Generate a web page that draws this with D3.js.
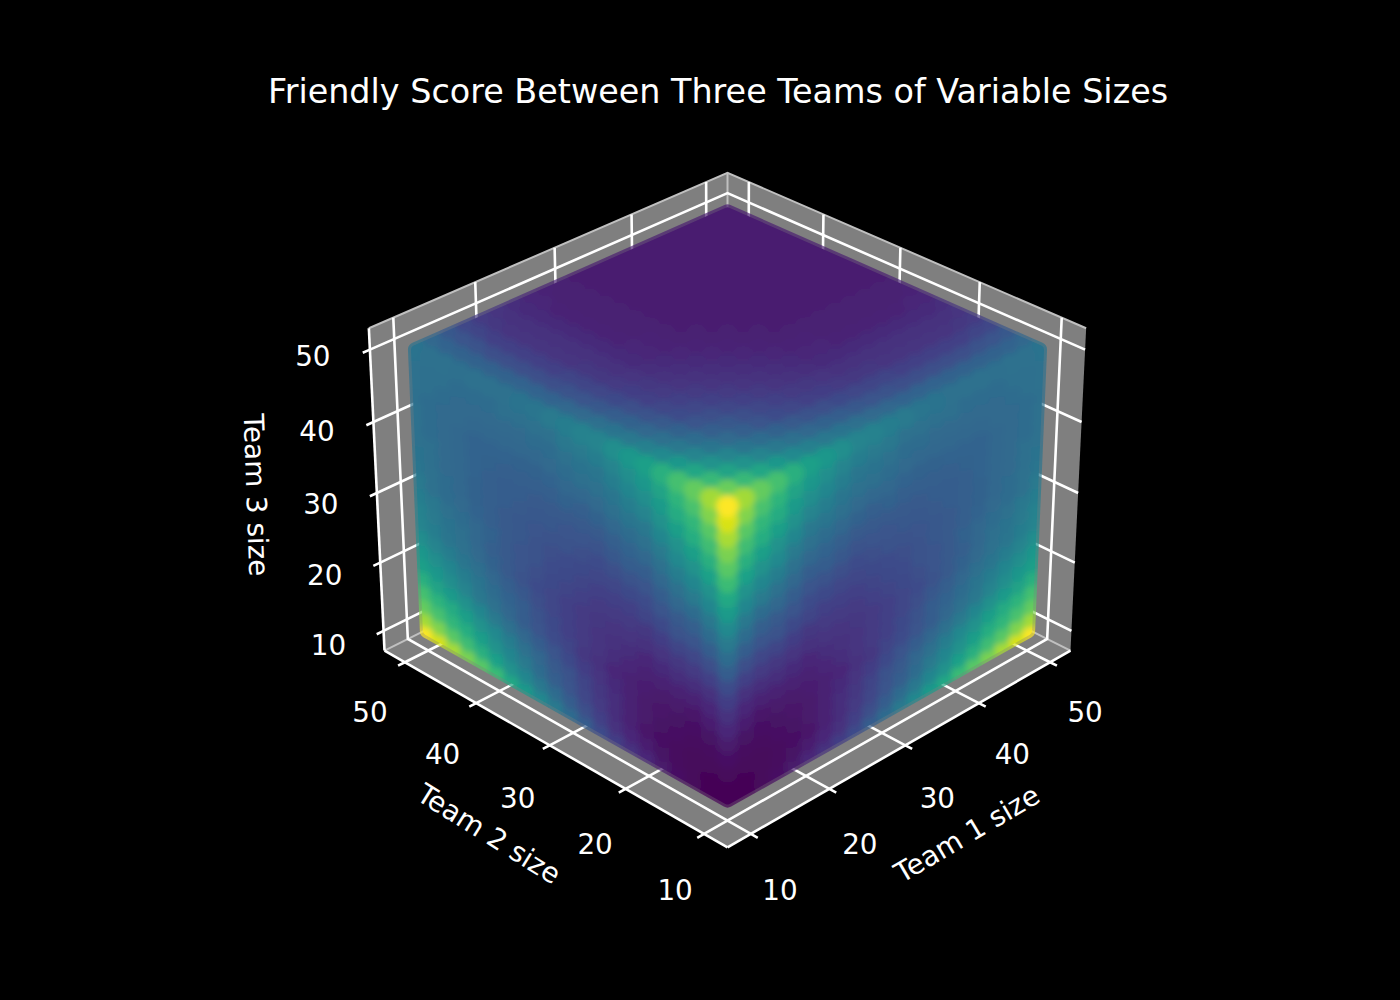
<!DOCTYPE html>
<html>
<head>
<meta charset="utf-8">
<script src="https://cdn.jsdelivr.net/npm/d3@7"></script>
<style>
  html, body { margin: 0; background: #000; }
  text { font-family: "DejaVu Sans", sans-serif; fill: #fff; }
</style>
</head>
<body>
<svg id="chart" width="1400" height="1000"></svg>
<script>
const chartTitle = "Friendly Score Between Three Teams of Variable Sizes";
const axisNames = ["Team 1 size", "Team 2 size", "Team 3 size"];
const tickValues = [10, 20, 30, 40, 50];
const teamSizes = [10, 12, 14, 16, 18, 20, 22, 24, 26, 28, 30, 32, 34, 36, 38, 40, 42, 44, 46, 48, 50];

const sideScores = [
  [1,1,2,4,7,11,14,18,23,29,35,41,47,54,60,68,74,80,87,94,100],
  [1,1,2,3,5,8,11,14,19,24,29,35,40,46,51,57,63,69,74,81,86],
  [2,2,2,3,4,6,9,13,17,21,26,30,35,41,46,51,56,62,66,71,76],
  [4,3,3,4,5,7,9,13,16,20,25,28,33,37,42,47,51,56,61,65,70],
  [7,5,4,5,6,7,9,12,15,18,22,26,29,33,37,41,46,50,54,58,63],
  [11,8,6,7,7,8,9,11,14,16,20,23,26,29,33,37,40,45,49,53,56],
  [14,11,9,9,9,9,11,13,15,17,19,22,25,29,32,35,39,42,46,49,53],
  [18,14,13,13,12,11,13,14,15,17,19,21,24,27,30,33,36,39,42,45,49],
  [23,19,17,16,15,14,15,15,16,17,19,21,23,25,28,31,34,37,39,42,45],
  [29,24,21,20,18,16,17,17,17,19,20,22,24,26,28,30,33,36,38,41,44],
  [35,29,26,25,22,20,19,19,19,20,22,23,25,26,28,31,33,35,37,40,42],
  [41,35,30,28,26,23,22,21,21,22,23,24,25,27,28,30,32,34,35,37,41],
  [47,40,35,33,29,26,25,24,23,24,25,25,26,27,28,30,31,33,35,37,39],
  [54,46,41,37,33,29,29,27,25,26,26,27,27,28,29,30,31,33,34,36,38],
  [60,51,46,42,37,33,32,30,28,28,28,28,28,29,29,30,32,33,34,36,37],
  [68,57,51,47,41,37,35,33,31,30,31,30,30,30,30,31,32,33,34,35,37],
  [74,63,56,51,46,40,39,36,34,33,33,32,31,31,32,32,32,33,34,35,37],
  [80,69,62,56,50,45,42,39,37,36,35,34,33,33,33,33,33,34,34,35,36],
  [87,74,66,61,54,49,46,42,39,38,37,35,35,34,34,34,34,34,35,36,37],
  [94,81,71,65,58,53,49,45,42,41,40,37,37,36,36,35,35,35,36,36,37],
  [100,86,76,70,63,56,53,49,45,44,42,41,39,38,37,37,37,36,37,37,38]
];

// score (team 3 at 50)
const topScores = [
  [100,86,76,70,63,56,53,49,45,44,42,41,39,38,37,37,37,36,37,37,38],
  [86,77,67,59,53,47,43,40,38,36,34,33,32,32,32,31,31,31,31,32,33],
  [76,67,58,51,45,40,36,33,31,29,27,26,25,24,24,24,24,24,25,26,27],
  [70,59,51,45,39,35,31,28,25,24,22,21,20,20,19,19,19,19,19,20,21],
  [63,53,45,39,34,30,26,23,21,19,18,17,16,16,15,15,15,15,15,16,17],
  [56,47,40,35,30,27,24,21,19,17,16,15,14,14,14,14,14,14,14,14,15],
  [53,43,36,31,26,24,21,19,17,15,14,13,12,12,12,12,12,12,12,12,13],
  [49,40,33,28,23,21,19,17,15,14,13,12,11,11,10,10,10,10,10,11,11],
  [45,38,31,25,21,19,17,15,14,13,12,11,10,10,9,9,9,9,9,9,10],
  [44,36,29,24,19,17,15,14,13,12,11,10,9,9,9,9,9,9,9,9,9],
  [42,34,27,22,18,16,14,13,12,11,10,9,9,8,8,8,8,8,8,8,8],
  [41,33,26,21,17,15,13,12,11,10,9,9,8,8,8,8,8,8,8,8,8],
  [39,32,25,20,16,14,12,11,10,9,9,8,8,8,8,8,8,8,8,8,8],
  [38,32,24,20,16,14,12,11,10,9,8,8,8,8,8,8,8,8,8,8,8],
  [37,32,24,19,15,14,12,10,9,9,8,8,8,8,8,8,8,8,8,8,8],
  [37,31,24,19,15,14,12,10,9,9,8,8,8,8,8,8,8,8,8,8,8],
  [37,31,24,19,15,14,12,10,9,9,8,8,8,8,8,8,8,8,8,8,8],
  [36,31,24,19,15,14,12,10,9,9,8,8,8,8,8,8,8,8,8,8,8],
  [37,31,25,19,15,14,12,10,9,9,8,8,8,8,8,8,8,8,8,8,8],
  [37,32,26,20,16,14,12,11,9,9,8,8,8,8,8,8,8,8,8,8,8],
  [38,33,27,21,17,15,13,11,10,9,8,8,8,8,8,8,8,8,8,8,8]
];

const svg = d3.select("#chart");
const lo = 7.08, hi = 52.92;   // axis limits with the 3d padding
const color = d3.scaleSequential(d3.interpolateViridis).domain([0, 100]);

// same camera as a 3d axes with elev 30, azim 225 and box aspect 4:4:3
const boxX = d3.scaleLinear().domain([lo, hi]).range([-0.5953, 0.5953]);
const boxZ = d3.scaleLinear().domain([lo, hi]).range([-0.4465, 0.4465]);
const screenX = d3.scaleLinear().domain([-0.1, 0.1]).range([727.5 - 416.5, 727.5 + 416.5]);
const screenY = d3.scaleLinear().domain([-0.1, 0.1]).range([493 + 416.5, 493 - 416.5]);
const cosE = Math.cos(Math.PI / 6), sinE = Math.sin(Math.PI / 6), s2 = Math.SQRT1_2;

function depth(x, y, z) {
    return -cosE * s2 * (boxX(x) + boxX(y)) + sinE * boxZ(z);
}

function project(x, y, z) {
    const px = boxX(x), py = boxX(y), pz = boxZ(z);
    const u = s2 * (px - py);
    const v = sinE * s2 * (px + py) + cosE * pz;
    const w = 10 - depth(x, y, z);
    return [screenX(u / w), screenY(v / w)];
}

const line3d = d3.line();

function path3d(points) {
    return line3d(points.map(p => project(...p)));
}

// panes
const panes = [
    [[lo, lo, lo], [hi, lo, lo], [hi, hi, lo], [lo, hi, lo]],
    [[lo, hi, lo], [hi, hi, lo], [hi, hi, hi], [lo, hi, hi]],
    [[hi, lo, lo], [hi, hi, lo], [hi, hi, hi], [hi, lo, hi]]
];
svg.append("g").selectAll("path")
    .data(panes)
    .join("path")
    .attr("d", d => path3d(d) + "Z")
    .attr("fill", "#7f7f7f");

// lighter pane edges, only where no axis line covers them
const paneEdges = [
    [[lo, hi, hi], [hi, hi, hi], [hi, lo, hi]],
    [[hi, hi, lo], [hi, hi, hi]],
    [[lo, hi, lo], [hi, hi, lo], [hi, lo, lo]]
];
svg.append("g").selectAll("path")
    .data(paneEdges)
    .join("path")
    .attr("d", path3d)
    .attr("fill", "none")
    .attr("stroke", "#c0c0c0")
    .attr("stroke-width", 2);

// grid lines and ticks, one polyline per tick
const tickOut = 0.85;
const gridLines = [];
tickValues.forEach(t => {
    gridLines.push([[t, lo - tickOut, lo], [t, lo, lo], [t, hi, lo], [t, hi, hi]]);
    gridLines.push([[lo - tickOut, t, lo], [lo, t, lo], [hi, t, lo], [hi, t, hi]]);
    gridLines.push([[lo - tickOut, hi, t], [lo, hi, t], [hi, hi, t], [hi, lo, t]]);
});
const axisLines = [
    [[lo, lo, lo], [hi, lo, lo]],
    [[lo, lo, lo], [lo, hi, lo]],
    [[lo, hi, lo], [lo, hi, hi]]
];
svg.append("g").selectAll("path")
    .data(gridLines.concat(axisLines))
    .join("path")
    .attr("d", path3d)
    .attr("fill", "none")
    .attr("stroke", "#fff")
    .attr("stroke-width", 2.6);

// the three faces we can see, far points first
const points = [];
teamSizes.forEach((a, i) => {
    teamSizes.forEach((b, j) => {
        points.push({ x: a, y: b, z: 50, score: topScores[i][j] });
        points.push({ x: 10, y: a, z: b, score: sideScores[i][j] });
        points.push({ x: a, y: 10, z: b, score: sideScores[i][j] });
    });
});
points.sort((p, q) => depth(p.x, p.y, p.z) - depth(q.x, q.y, q.z));

// soften the dots into one surface, and trim it to the cloud outline
const defs = svg.append("defs");
defs.append("filter")
    .attr("id", "soft")
    .attr("filterUnits", "userSpaceOnUse")
    .attr("x", 0).attr("y", 0).attr("width", 1400).attr("height", 1000)
    .append("feGaussianBlur")
    .attr("stdDeviation", 3);

const hull = d3.polygonHull(points.map(d => project(d.x, d.y, d.z)));
const hullPath = "M" + hull.join("L") + "Z";
const mask = defs.append("mask")
    .attr("id", "outline")
    .attr("maskUnits", "userSpaceOnUse")
    .attr("x", 0).attr("y", 0).attr("width", 1400).attr("height", 1000);
mask.append("path")
    .attr("d", hullPath)
    .attr("fill", "#b0b0b0")
    .attr("stroke", "#b0b0b0")
    .attr("stroke-width", 15)
    .attr("stroke-linejoin", "round");
mask.append("path")
    .attr("d", hullPath)
    .attr("fill", "#fff")
    .attr("stroke", "#fff")
    .attr("stroke-width", 9)
    .attr("stroke-linejoin", "round");

const cloud = svg.append("g")
    .attr("mask", "url(#outline)")
    .append("g")
    .attr("filter", "url(#soft)");

// wide pass keeps the rim solid under the blur, narrow pass keeps the colours tight
[15, 11].forEach(r => {
    cloud.append("g").selectAll("circle")
        .data(points)
        .join("circle")
        .attr("cx", d => project(d.x, d.y, d.z)[0])
        .attr("cy", d => project(d.x, d.y, d.z)[1])
        .attr("r", r)
        .attr("fill", d => color(d.score));
});

// tick labels, the offset grows a little with the tick because of the perspective
const offsetX = [
    d3.scaleLinear().domain([10, 50]).range([29, 35]),
    d3.scaleLinear().domain([10, 50]).range([-29, -35]),
    d3.scaleLinear().domain([10, 50]).range([-55, -57])
];
const offsetY = [
    d3.scaleLinear().domain([10, 50]).range([57, 50]),
    d3.scaleLinear().domain([10, 50]).range([57, 50]),
    d3.scaleLinear().domain([10, 50]).range([15, 7])
];
const tickSpots = [t => [t, lo, lo], t => [lo, t, lo], t => [lo, hi, t]];
tickSpots.forEach((spot, k) => {
    svg.append("g").selectAll("text")
        .data(tickValues)
        .join("text")
        .attr("x", d => project(...spot(d))[0] + offsetX[k](d))
        .attr("y", d => project(...spot(d))[1] + offsetY[k](d))
        .attr("text-anchor", "middle")
        .attr("dominant-baseline", "central")
        .attr("font-size", 27.8)
        .text(d => d);
});

// axis names
const namePlaces = [[967, 834, -30.5], [489, 834, 32], [256, 495, 88]];
svg.append("g").selectAll("text")
    .data(axisNames)
    .join("text")
    .attr("transform", (d, i) => `translate(${namePlaces[i][0]},${namePlaces[i][1]}) rotate(${namePlaces[i][2]})`)
    .attr("text-anchor", "middle")
    .attr("dominant-baseline", "central")
    .attr("font-size", 27.8)
    .text(d => d);

svg.append("text")
    .attr("x", 718)
    .attr("y", 103)
    .attr("text-anchor", "middle")
    .attr("font-size", 33.4)
    .text(chartTitle);
</script>
</body>
</html>
